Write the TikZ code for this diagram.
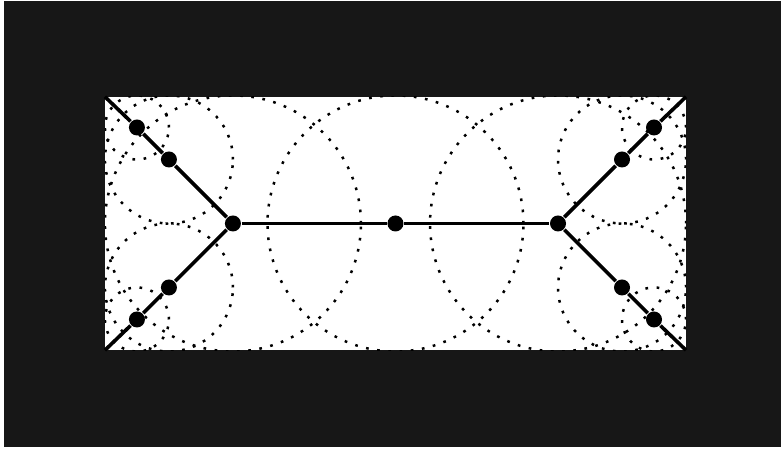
\documentclass[tikz,border=0pt]{standalone}
\usetikzlibrary{positioning}

\begin{document}
\begin{tikzpicture}[
    vertex/.style={circle, fill=black, inner sep=0pt, minimum size=0.125cm},
    ring/.style={line width=0.55pt, dash pattern=on 0.6pt off 1.9pt},
    edge/.style={line width=0.8pt}
  ]
  % frame and background
  \useasboundingbox (-3.09,-1.762) rectangle (3.012,1.746);
  \fill[white] (-3.09,-1.762) rectangle (3.012,1.746);
  \fill[black!91] (-3.059,-1.746) rectangle (3.012,1.738);
  \fill[white] (-2.27,-0.99) rectangle (2.27,0.99);

  % corners of the field
  \coordinate (tl) at (-2.27,0.99);
  \coordinate (bl) at (-2.27,-0.99);
  \coordinate (tr) at (2.27,0.99);
  \coordinate (br) at (2.27,-0.99);

  % points of the tree
  \node[vertex] (mid) at (0,0) {};
  \node[vertex] (jl) at (-1.27,0) {};
  \node[vertex] (jr) at (1.27,0) {};
  \node[vertex] (lu1) at (-1.77,0.5) {};
  \node[vertex] (lu2) at (-2.02,0.75) {};
  \node[vertex] (ll1) at (-1.77,-0.5) {};
  \node[vertex] (ll2) at (-2.02,-0.75) {};
  \node[vertex] (ru1) at (1.77,0.5) {};
  \node[vertex] (ru2) at (2.02,0.75) {};
  \node[vertex] (rl1) at (1.77,-0.5) {};
  \node[vertex] (rl2) at (2.02,-0.75) {};

  % dotted circles round each point
  \begin{scope}
    \clip (tl) rectangle (br);
    \draw[ring] (mid) circle (1);
    \draw[ring] (jl) circle (1);
    \draw[ring] (jr) circle (1);
    \foreach \p in {lu1, ll1, ru1, rl1}
      \draw[ring] (\p) circle (0.5);
    \foreach \p in {lu2, ll2, ru2, rl2}
      \draw[ring] (\p) circle (0.25);
  \end{scope}

  % tree edges
  \draw[edge] (tl) -- (lu2) -- (lu1) -- (jl);
  \draw[edge] (bl) -- (ll2) -- (ll1) -- (jl);
  \draw[edge] (jl) -- (mid) -- (jr);
  \draw[edge] (jr) -- (ru1) -- (ru2) -- (tr);
  \draw[edge] (jr) -- (rl1) -- (rl2) -- (br);
\end{tikzpicture}
\end{document}
